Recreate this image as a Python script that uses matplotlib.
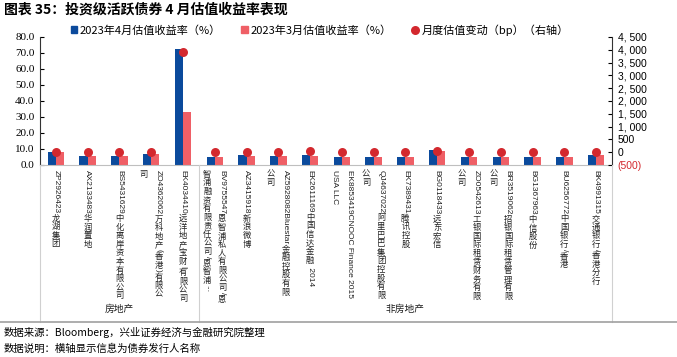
import matplotlib.pyplot as plt
from matplotlib.lines import Line2D
from matplotlib.patches import Patch
from matplotlib.transforms import IdentityTransform
import numpy as np

plt.rcParams['font.family'] = ['Noto Sans CJK SC', 'DejaVu Sans']

# data
labels = [
    'ZP2926423龙湖集团',
    'AX2133483华润置地',
    'BS5431629中化离岸资本有限公司',
    'ZO4362062万科地产(香港)有限公\n司',
    'EK4034410远洋地产宝财I有限公司',
    'BV9755547恩智浦私人有限公司/恩\n智浦融资有限责任公司/恩智浦...',
    'AZ3415918新浪微博',
    'AZ5928082Bluestar金融控股有限\n公司',
    'EK2611169中国信达金融 2014',
    'EK8853419CNOOC Finance 2015\nUSA LLC',
    'QJ4637022阿里巴巴集团控股有限\n公司',
    'EK7389431腾讯控股',
    'BG0118433远东宏信',
    'ZO0542613工银国际租赁财务有限\n公司',
    'BR3519062招银国际租赁管理有限\n公司',
    'BG1367963中信股份',
    'BU6256772中国银行/香港',
    'BK4991315交通银行/香港分行',
]
apr_yield = [8.4, 5.6, 5.4, 6.9, 72.4, 5.3, 6.1, 5.7, 6.1, 5.0, 5.3, 5.1, 9.3, 5.1, 5.3, 5.3, 4.9, 6.2]
mar_yield = [8.2, 5.5, 5.5, 6.8, 33.1, 5.3, 5.9, 5.6, 5.8, 5.0, 5.3, 5.1, 9.0, 5.1, 5.3, 5.3, 4.9, 6.0]
change_bp = [20, 10, -10, 10, 3930, 0, 20, 10, 30, 5, 0, 0, 40, 0, 5, 0, 0, 20]
groups = ['房地产', '非房地产']
group_sizes = [5, 13]

blue = '#0B4A9C'
pink = '#EF5F66'
red = '#D3282E'
W, H = 677, 357

fig = plt.figure(figsize=(W / 100, H / 100), dpi=100)
ax = fig.add_axes([40 / W, 1 - 165 / H, 572 / W, 128 / H])
ax2 = ax.twinx()

x = np.arange(len(labels))
w = 0.26
ax.bar(x - w / 2, apr_yield, w, color=blue, zorder=2)
ax.bar(x + w / 2, mar_yield, w, color=pink, zorder=2)
ax2.scatter(x, change_bp, s=42, color=red, zorder=3, linewidths=0)

ax.set_xlim(-0.5, len(labels) - 0.5)
ax.set_ylim(0, 80)
ax.set_yticks(np.arange(0, 81, 10))
ax.set_yticklabels([f'{v:.1f}' for v in range(0, 81, 10)], family='Liberation Serif', fontsize=8)
ax2.set_ylim(-500, 4500)
rt = list(range(-500, 4501, 500))
ax2.set_yticks(rt)
ax2.set_yticklabels([f'({-v})' if v < 0 else f'{v:,}'.replace(',', ', ') for v in rt],
                    family='Liberation Sans', fontsize=7.5)
ax2.get_yticklabels()[0].set_color(red)

ax.set_xticks(x)
ax.set_xticklabels([])
ax.tick_params(axis='x', length=0)
ax.tick_params(axis='y', direction='in', length=3, pad=4)
ax2.tick_params(axis='y', direction='in', length=3, pad=4)

for a in (ax, ax2):
    a.spines['top'].set_visible(False)
ax.spines['left'].set_color('#333333')
ax2.spines['right'].set_color('#333333')
ax.spines['bottom'].set_color('#bfbfbf')
ax2.spines['bottom'].set_visible(False)
ax2.spines['left'].set_visible(False)
ax.spines['right'].set_visible(False)

# category labels: latin runs turned, CJK characters kept upright (vertical text)
renderer = fig.canvas.get_renderer()
pix = IdentityTransform()
cjk_step = 8.6
col_gap = 15
top_y = H - 170


def vertical_label(xc, text):
    y = top_y
    run = ''
    for c in text + '\0':
        if c == '\0' or ord(c) > 0x2E80:
            if run:
                t = fig.text(xc, y, run, transform=pix, rotation=270, ha='center', va='top',
                             fontsize=6, family=['Liberation Sans', 'Noto Sans CJK SC'],
                             color='#222222')
                y -= t.get_window_extent(renderer).height + 0.5
                run = ''
            if c != '\0':
                fig.text(xc, y - cjk_step / 2, c, transform=pix, ha='center', va='center',
                         fontsize=6, color='#222222')
                y -= cjk_step
        else:
            run += c


for i, lab in enumerate(labels):
    xc = ax.transData.transform((i, 0))[0]
    lines = lab.split('\n')
    n = len(lines)
    for k, line in enumerate(lines):
        vertical_label(xc + (n - 1) / 2 * col_gap - k * col_gap, line)

# group boxes below the axis
edges = [0]
for n in group_sizes:
    edges.append(edges[-1] + n)
bot = 1 - 322 / H
for e in edges:
    px = ax.transData.transform((e - 0.5, 0))[0] / W
    fig.add_artist(Line2D([px, px], [1 - 165 / H, bot], color='#d0d0d0', lw=0.8))
fig.add_artist(Line2D([0, 1], [bot, bot], color='#a0a0a0', lw=1.2))
for g, a0, a1 in zip(groups, edges[:-1], edges[1:]):
    cx = ax.transData.transform(((a0 + a1 - 1) / 2, 0))[0] / W
    fig.text(cx, 1 - 309 / H, g, fontsize=7, ha='center', va='center', color='#222222')

handles = [Patch(color=blue), Patch(color=pink),
           Line2D([], [], marker='o', ls='', color=red, markersize=6.5, markeredgewidth=0)]
fig.legend(handles, ['2023年4月估值收益率（%）', '2023年3月估值收益率（%）', '月度估值变动（bp）（右轴）'],
           ncol=3, loc='center', bbox_to_anchor=(0.472, 1 - 30 / H), frameon=False,
           fontsize=8, handlelength=0.6, handleheight=0.6, handletextpad=0.25, columnspacing=1.8)

fig.text(4 / W, 1 - 10 / H, '图表 35：投资级活跃债券 4 月估值收益率表现',
         fontsize=10, fontweight='bold', va='center', ha='left')
fig.text(4 / W, 1 - 332 / H, '数据来源：Bloomberg，兴业证券经济与金融研究院整理',
         fontsize=7.5, va='center', ha='left')
fig.text(4 / W, 1 - 349 / H, '数据说明：横轴显示信息为债券发行人名称',
         fontsize=7.5, va='center', ha='left')

fig.savefig('out.png', dpi=100)
